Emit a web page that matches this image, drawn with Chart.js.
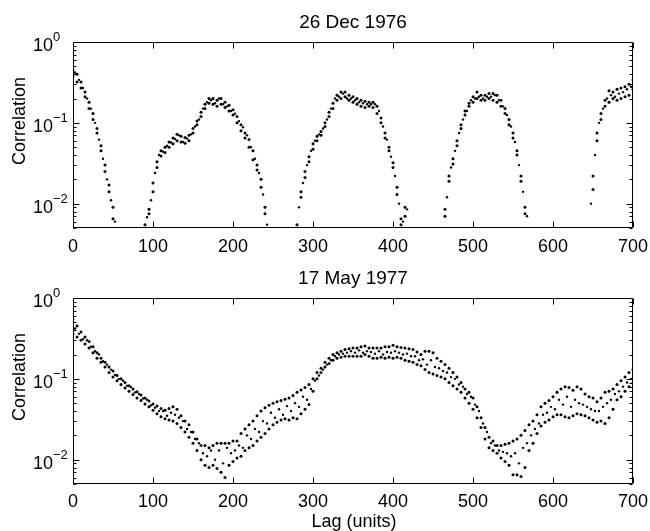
<!DOCTYPE html>
<html>
<head>
<meta charset="utf-8">
<script src="https://cdn.jsdelivr.net/npm/chart.js@4.4.0/dist/chart.umd.min.js"></script>
<style>
  body { margin: 0; background: #fff; }
  #wrap { position: relative; width: 650px; height: 531px; }
  #wrap canvas { position: absolute; left: 0; top: 0; }
</style>
</head>
<body>
<div id="wrap">
  <canvas id="chartTop" width="650" height="531"></canvas>
  <canvas id="chartBottom" width="650" height="531"></canvas>
</div>
<script>
// lag grid (units)
const lag = [
  0, 5, 10, 15, 20, 25, 30, 35, 40, 45, 50, 55, 60, 65, 70, 75, 80, 85, 90, 95,
  100, 105, 110, 115, 120, 125, 130, 135, 140, 145, 150, 155, 160, 165, 170, 175, 180, 185, 190, 195,
  200, 205, 210, 215, 220, 225, 230, 235, 240, 245, 250, 255, 260, 265, 270, 275, 280, 285, 290, 295,
  300, 305, 310, 315, 320, 325, 330, 335, 340, 345, 350, 355, 360, 365, 370, 375, 380, 385, 390, 395,
  400, 405, 410, 415, 420, 425, 430, 435, 440, 445, 450, 455, 460, 465, 470, 475, 480, 485, 490, 495,
  500, 505, 510, 515, 520, 525, 530, 535, 540, 545, 550, 555, 560, 565, 570, 575, 580, 585, 590, 595,
  600, 605, 610, 615, 620, 625, 630, 635, 640, 645, 650, 655, 660, 665, 670, 675, 680, 685, 690, 695,
  700
];
// in-between lags
const lagMid = [
  2.5, 7.5, 12.5, 17.5, 22.5, 27.5, 32.5, 37.5, 42.5, 47.5, 52.5, 57.5, 62.5, 67.5, 72.5, 77.5, 82.5, 87.5, 92.5, 97.5,
  102.5, 107.5, 112.5, 117.5, 122.5, 127.5, 132.5, 137.5, 142.5, 147.5, 152.5, 157.5, 162.5, 167.5, 172.5, 177.5, 182.5, 187.5, 192.5, 197.5,
  202.5, 207.5, 212.5, 217.5, 222.5, 227.5, 232.5, 237.5, 242.5, 247.5, 252.5, 257.5, 262.5, 267.5, 272.5, 277.5, 282.5, 287.5, 292.5, 297.5,
  302.5, 307.5, 312.5, 317.5, 322.5, 327.5, 332.5, 337.5, 342.5, 347.5, 352.5, 357.5, 362.5, 367.5, 372.5, 377.5, 382.5, 387.5, 392.5, 397.5,
  402.5, 407.5, 412.5, 417.5, 422.5, 427.5, 432.5, 437.5, 442.5, 447.5, 452.5, 457.5, 462.5, 467.5, 472.5, 477.5, 482.5, 487.5, 492.5, 497.5,
  502.5, 507.5, 512.5, 517.5, 522.5, 527.5, 532.5, 537.5, 542.5, 547.5, 552.5, 557.5, 562.5, 567.5, 572.5, 577.5, 582.5, 587.5, 592.5, 597.5,
  602.5, 607.5, 612.5, 617.5, 622.5, 627.5, 632.5, 637.5, 642.5, 647.5, 652.5, 657.5, 662.5, 667.5, 672.5, 677.5, 682.5, 687.5, 692.5, 697.5
];

// 26 Dec 1976 - upper / lower edge of the scatter, and in-between points
const decHi = [
  0.45, 0.40, 0.32, 0.24, 0.18, 0.13, 0.085, 0.052, 0.030, 0.017, 0.009, null, null, null, null, null, null, null, 0.0055, 0.0085,
  0.018, 0.033, 0.045, 0.050, 0.058, 0.065, 0.072, 0.068, 0.066, 0.070, 0.085, 0.105, 0.135, 0.17, 0.20, 0.20, 0.19, 0.20, 0.18, 0.165,
  0.145, 0.12, 0.095, 0.075, 0.062, 0.045, 0.030, 0.020, 0.009, null, null, null, null, null, null, null, 0.0055, 0.014, 0.025, 0.038,
  0.055, 0.068, 0.078, 0.10, 0.135, 0.175, 0.22, 0.24, 0.24, 0.22, 0.21, 0.20, 0.19, 0.185, 0.18, 0.18, 0.16, 0.115, 0.075, 0.050,
  0.032, 0.016, 0.0065, 0.009, null, null, null, null, null, null, null, null, null, 0.0085, 0.022, 0.036, 0.060, 0.095, 0.14, 0.175,
  0.21, 0.24, 0.22, 0.22, 0.23, 0.23, 0.22, 0.19, 0.15, 0.11, 0.075, 0.045, 0.022, 0.009, null, null, null, null, null, null,
  null, null, null, null, null, null, null, null, null, null, 0.022, 0.075, 0.13, 0.19, 0.25, 0.24, 0.26, 0.27, 0.28, 0.30,
  0.34
];
const decLo = [
  0.38, 0.32, 0.27, 0.21, 0.15, 0.11, 0.075, 0.045, 0.025, 0.014, 0.0065, null, null, null, null, null, null, null, null, 0.0075,
  0.014, 0.028, 0.039, 0.043, 0.050, 0.055, 0.060, 0.058, 0.056, 0.060, 0.075, 0.095, 0.12, 0.15, 0.175, 0.17, 0.16, 0.17, 0.155, 0.14,
  0.125, 0.10, 0.080, 0.065, 0.050, 0.035, 0.026, 0.016, 0.0075, null, null, null, null, null, null, null, null, 0.012, 0.021, 0.033,
  0.047, 0.060, 0.070, 0.090, 0.12, 0.15, 0.19, 0.20, 0.21, 0.19, 0.18, 0.17, 0.16, 0.155, 0.16, 0.155, 0.13, 0.10, 0.065, 0.045,
  0.028, 0.013, 0.0055, 0.007, null, null, null, null, null, null, null, null, null, 0.007, 0.019, 0.031, 0.052, 0.085, 0.125, 0.16,
  0.18, 0.20, 0.19, 0.19, 0.20, 0.19, 0.18, 0.16, 0.13, 0.095, 0.065, 0.040, 0.019, 0.0075, null, null, null, null, null, null,
  null, null, null, null, null, null, null, null, null, null, 0.015, 0.060, 0.11, 0.16, 0.18, 0.20, 0.19, 0.20, 0.21, 0.22,
  0.26
];
const decMid = [
  0.42, 0.34, 0.27, 0.20, 0.15, 0.10, 0.062, 0.036, 0.020, 0.011, 0.006, null, null, null, null, null, null, null, 0.0068, 0.011,
  0.024, 0.040, 0.044, 0.052, 0.057, 0.063, 0.070, 0.058, 0.064, 0.072, 0.090, 0.11, 0.15, 0.18, 0.19, 0.175, 0.20, 0.17, 0.16, 0.14,
  0.13, 0.105, 0.088, 0.070, 0.050, 0.036, 0.024, 0.013, 0.0055, null, null, null, null, null, null, null, 0.009, 0.018, 0.030, 0.045,
  0.060, 0.072, 0.085, 0.11, 0.15, 0.20, 0.21, 0.23, 0.20, 0.20, 0.19, 0.18, 0.175, 0.17, 0.17, 0.17, 0.14, 0.090, 0.062, 0.038,
  0.022, 0.010, 0.006, 0.0085, null, null, null, null, null, null, null, null, null, 0.012, 0.028, 0.045, 0.075, 0.11, 0.14, 0.19,
  0.20, 0.21, 0.20, 0.21, 0.21, 0.22, 0.19, 0.16, 0.125, 0.090, 0.058, 0.030, 0.014, 0.007, null, null, null, null, null, null,
  null, null, null, null, null, null, null, null, null, 0.010, 0.040, 0.10, 0.15, 0.20, 0.22, 0.21, 0.23, 0.24, 0.26, 0.28
];

// 17 May 1977 - upper / lower edge of the scatter, and in-between points
const mayHi = [
  0.55, 0.45, 0.38, 0.33, 0.29, 0.25, 0.21, 0.18, 0.16, 0.14, 0.125, 0.11, 0.10, 0.090, 0.082, 0.075, 0.069, 0.063, 0.058, 0.053,
  0.049, 0.046, 0.043, 0.041, 0.043, 0.045, 0.042, 0.035, 0.030, 0.027, 0.022, 0.018, 0.015, 0.015, 0.014, 0.015, 0.016, 0.016, 0.016, 0.016,
  0.017, 0.017, 0.021, 0.024, 0.027, 0.030, 0.035, 0.040, 0.044, 0.047, 0.050, 0.052, 0.054, 0.056, 0.058, 0.062, 0.068, 0.073, 0.078, 0.085,
  0.10, 0.12, 0.135, 0.16, 0.18, 0.20, 0.21, 0.22, 0.23, 0.235, 0.24, 0.24, 0.25, 0.255, 0.24, 0.24, 0.24, 0.24, 0.25, 0.25,
  0.26, 0.25, 0.245, 0.24, 0.235, 0.23, 0.215, 0.20, 0.22, 0.22, 0.21, 0.18, 0.165, 0.15, 0.135, 0.12, 0.105, 0.090, 0.075, 0.068,
  0.058, 0.045, 0.033, 0.025, 0.019, 0.017, 0.015, 0.015, 0.0155, 0.016, 0.017, 0.018, 0.020, 0.023, 0.027, 0.030, 0.036, 0.045, 0.050, 0.054,
  0.060, 0.068, 0.075, 0.080, 0.078, 0.072, 0.080, 0.075, 0.065, 0.060, 0.058, 0.052, 0.058, 0.068, 0.070, 0.075, 0.085, 0.095, 0.105, 0.12,
  0.13
];
const mayLo = [
  0.36, 0.33, 0.30, 0.27, 0.24, 0.21, 0.18, 0.16, 0.14, 0.12, 0.105, 0.095, 0.085, 0.077, 0.070, 0.064, 0.058, 0.054, 0.049, 0.045,
  0.041, 0.037, 0.034, 0.032, 0.031, 0.030, 0.028, 0.025, 0.022, 0.019, 0.016, 0.013, 0.010, 0.0085, 0.008, 0.0085, 0.0078, 0.007, 0.006, 0.0085,
  0.0095, 0.0105, 0.011, 0.013, 0.014, 0.015, 0.017, 0.019, 0.021, 0.024, 0.027, 0.029, 0.031, 0.032, 0.031, 0.033, 0.032, 0.037, 0.042, 0.048,
  0.070, 0.10, 0.12, 0.14, 0.155, 0.17, 0.18, 0.185, 0.19, 0.19, 0.19, 0.19, 0.19, 0.20, 0.19, 0.18, 0.18, 0.185, 0.18, 0.185,
  0.18, 0.185, 0.18, 0.17, 0.165, 0.16, 0.15, 0.145, 0.13, 0.12, 0.115, 0.11, 0.105, 0.10, 0.090, 0.082, 0.075, 0.068, 0.058, 0.050,
  0.042, 0.033, 0.025, 0.018, 0.014, 0.013, 0.012, 0.0105, 0.0095, 0.0085, 0.0065, 0.0065, 0.0062, 0.008, 0.013, 0.016, 0.021, 0.026, 0.029, 0.031,
  0.034, 0.036, 0.036, 0.034, 0.033, 0.035, 0.037, 0.036, 0.035, 0.033, 0.031, 0.029, 0.030, 0.028, 0.033, 0.042, 0.055, 0.060, 0.070, 0.080,
  0.090
];
const mayMid = [
  0.42, 0.36, 0.31, 0.30, 0.25, 0.22, 0.20, 0.165, 0.15, 0.13, 0.112, 0.10, 0.095, 0.082, 0.079, 0.068, 0.065, 0.057, 0.055, 0.047,
  0.044, 0.040, 0.040, 0.035, 0.038, 0.036, 0.033, 0.030, 0.024, 0.022, 0.018, 0.016, 0.012, 0.011, 0.013, 0.010, 0.013, 0.009, 0.014, 0.012,
  0.013, 0.015, 0.014, 0.020, 0.018, 0.024, 0.022, 0.030, 0.028, 0.038, 0.033, 0.042, 0.036, 0.046, 0.040, 0.050, 0.045, 0.060, 0.055, 0.075,
  0.095, 0.11, 0.13, 0.15, 0.17, 0.19, 0.20, 0.205, 0.21, 0.22, 0.21, 0.225, 0.21, 0.22, 0.215, 0.205, 0.22, 0.20, 0.215, 0.21,
  0.22, 0.21, 0.20, 0.205, 0.19, 0.19, 0.17, 0.175, 0.15, 0.17, 0.14, 0.135, 0.125, 0.12, 0.105, 0.10, 0.085, 0.080, 0.065, 0.060,
  0.048, 0.040, 0.028, 0.022, 0.016, 0.015, 0.013, 0.0125, 0.012, 0.011, 0.012, 0.009, 0.014, 0.016, 0.020, 0.024, 0.028, 0.036, 0.038, 0.045,
  0.042, 0.055, 0.048, 0.060, 0.045, 0.055, 0.050, 0.048, 0.045, 0.042, 0.040, 0.040, 0.045, 0.050, 0.055, 0.065, 0.070, 0.080, 0.090, 0.10
];

const xTicks = [0, 100, 200, 300, 400, 500, 600, 700];
const yMajor = [1, 0.1, 0.01];
const yExp = ['0', '\u22121', '\u22122'];

const FONT = '"Liberation Sans", Arial, Helvetica, sans-serif';

function pts(xs, ys) {
    var out = [];
    for (var i = 0; i < xs.length; i++) {
        if (ys[i] != null) out.push({x: xs[i], y: ys[i]});
    }
    return out;
}

// draws box, inward ticks, MATLAB-like labels
const framePlugin = {
    id: 'frame',
    afterDatasetsDraw: function (chart, args, opts) {
        var ctx = chart.ctx;
        var a = chart.chartArea;
        var xs = chart.scales.x, ys = chart.scales.y;
        ctx.save();
        ctx.strokeStyle = '#000';
        ctx.lineWidth = 1;
        var L = Math.round(a.left) + 0.5, R = Math.round(a.right) - 0.5;
        var T = Math.round(a.top) + 0.5, B = Math.round(a.bottom) - 0.5;
        ctx.beginPath();
        ctx.rect(L, T, R - L, B - T);
        // x ticks top & bottom
        xTicks.forEach(function (v) {
            var px = Math.round(xs.getPixelForValue(v)) + 0.5;
            ctx.moveTo(px, B); ctx.lineTo(px, B - 6);
            ctx.moveTo(px, T); ctx.lineTo(px, T + 6);
        });
        // y ticks, major + minor
        [0.001, 0.01, 0.1].forEach(function (dec) {
            for (var m = 1; m <= 9; m++) {
                var v = dec * m;
                if (v < ys.min - 1e-9 || v > ys.max + 1e-9) continue;
                var py = Math.round(ys.getPixelForValue(v)) + 0.5;
                var len = m === 1 ? 6 : 3;
                ctx.moveTo(L, py); ctx.lineTo(L + len, py);
                ctx.moveTo(R, py); ctx.lineTo(R - len, py);
            }
        });
        var pyTop = Math.round(ys.getPixelForValue(1)) + 0.5;
        ctx.moveTo(L, pyTop); ctx.lineTo(L + 6, pyTop);
        ctx.moveTo(R, pyTop); ctx.lineTo(R - 6, pyTop);
        ctx.stroke();

        ctx.fillStyle = '#000';
        ctx.font = '18px ' + FONT;
        ctx.textBaseline = 'alphabetic';
        ctx.textAlign = 'center';
        xTicks.forEach(function (v) {
            ctx.fillText(String(v), xs.getPixelForValue(v), a.bottom + opts.tickGap);
        });
        ctx.textAlign = 'left';
        yMajor.forEach(function (v, i) {
            var py = ys.getPixelForValue(v);
            ctx.font = '18px ' + FONT;
            ctx.fillText('10', 33, py + 9);
            var w = ctx.measureText('10').width;
            ctx.font = '13px ' + FONT;
            ctx.fillText(yExp[i], 33 + w, py - 1);
        });
        ctx.textAlign = 'center';
        ctx.font = '19px ' + FONT;
        ctx.fillText(opts.title, 353, a.top - 14);
        ctx.font = '18px ' + FONT;
        if (opts.xTitle) ctx.fillText(opts.xTitle, 354, 527);
        ctx.translate(25, (a.top + a.bottom) / 2 - 14);
        ctx.rotate(-Math.PI / 2);
        ctx.fillText('Correlation', 0, 0);
        ctx.restore();
    }
};

function dotSet(data, r) {
    return { data: data, pointRadius: r, pointBorderWidth: 0, backgroundColor: '#000', borderColor: '#000' };
}

function makeChart(id, hi, lo, mid, pad, title, xTitle, tickGap) {
    var ctx = document.getElementById(id).getContext('2d');
    return new Chart(ctx, {
        type: 'scatter',
        data: {
            datasets: [
                dotSet(pts(lag, hi), 1.5),
                dotSet(pts(lag, lo), 1.5),
                dotSet(pts(lagMid, mid), 1.2)
            ]
        },
        options: {
            responsive: false,
            animation: false,
            devicePixelRatio: 1,
            layout: { padding: pad },
            scales: {
                x: { type: 'linear', min: 0, max: 700, display: false },
                y: { type: 'logarithmic', min: 0.005, max: 1, display: false }
            },
            plugins: {
                legend: { display: false },
                tooltip: { enabled: false },
                frame: { title: title, xTitle: xTitle, tickGap: tickGap }
            }
        },
        plugins: [framePlugin]
    });
}

makeChart('chartTop', decHi, decLo, decMid, { left: 73, right: 17, top: 42, bottom: 303 }, '26 Dec 1976', null, 24);
makeChart('chartBottom', mayHi, mayLo, mayMid, { left: 73, right: 17, top: 298, bottom: 47 }, '17 May 1977', 'Lag (units)', 23);
</script>
</body>
</html>
